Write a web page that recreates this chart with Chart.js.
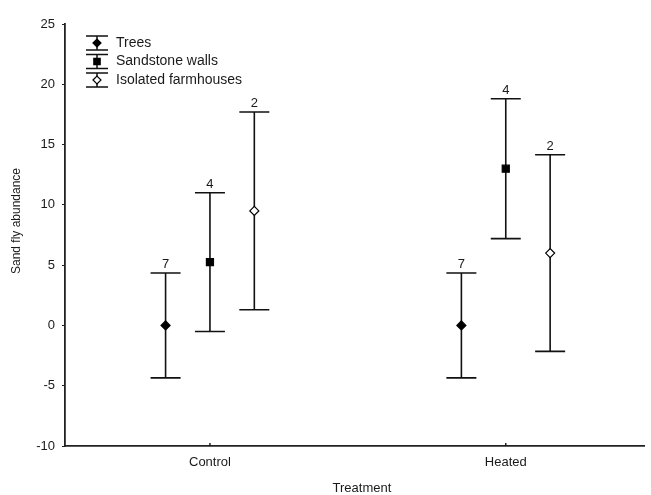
<!DOCTYPE html>
<html><head><meta charset="utf-8">
<script src="https://cdn.jsdelivr.net/npm/chart.js@4/dist/chart.umd.min.js"></script>
<style>html,body{margin:0;padding:0;background:#fff}#c{display:block}</style>
</head><body>
<canvas id="c" width="651" height="495"></canvas>
<script>
const categories = ["Control", "Heated"];
const seriesNames = ["Trees", "Sandstone walls", "Isolated farmhouses"];
const treesMean = [0, 0];
const treesErr = [4.35, 4.35];
const treesN = [7, 7];
const sandMean = [5.25, 13.0];
const sandErr = [5.75, 5.8];
const sandN = [4, 4];
const farmMean = [9.5, 6.0];
const farmErr = [8.2, 8.15];
const farmN = [2, 2];
const yTicks = [-10, -5, 0, 5, 10, 15, 20, 25];
const xTitle = "Treatment";
const yTitle = "Sand fly abundance";

const offsets = [-0.15, 0, 0.15];
const means = [treesMean, sandMean, farmMean];
const errs = [treesErr, sandErr, farmErr];
const ns = [treesN, sandN, farmN];
const styles = [
  {pointStyle: 'rectRot', fill: '#000', radius: 4.5},
  {pointStyle: 'rect', fill: '#000', radius: 5},
  {pointStyle: 'rectRot', fill: '#fff', radius: 4.5}
];
const FONT = '"Liberation Sans", Arial, sans-serif';
const TXT = '#1a1a1a';

const datasets = seriesNames.map((name, s) => ({
  label: name,
  data: categories.map((c, i) => ({x: i + 1 + offsets[s], y: means[s][i], e: errs[s][i], n: ns[s][i]})),
  showLine: false,
  pointStyle: styles[s].pointStyle,
  pointRadius: styles[s].radius,
  pointBackgroundColor: styles[s].fill,
  pointBorderColor: '#000',
  pointBorderWidth: 1.2,
  backgroundColor: styles[s].fill,
  borderColor: '#000'
}));

const errorBars = {
  id: 'errorBars',
  beforeDatasetsDraw(chart) {
    const ctx = chart.ctx, xs = chart.scales.x, ys = chart.scales.y;
    ctx.save();
    ctx.strokeStyle = '#111';
    ctx.lineWidth = 1.6;
    ctx.fillStyle = TXT;
    ctx.font = '13px ' + FONT;
    ctx.textAlign = 'center';
    ctx.textBaseline = 'bottom';
    chart.data.datasets.forEach(ds => {
      ds.data.forEach(p => {
        const x = xs.getPixelForValue(p.x);
        const yt = ys.getPixelForValue(p.y + p.e);
        const yb = ys.getPixelForValue(p.y - p.e);
        ctx.beginPath();
        ctx.moveTo(x, yt); ctx.lineTo(x, yb);
        ctx.moveTo(x - 15, yt); ctx.lineTo(x + 15, yt);
        ctx.moveTo(x - 15, yb); ctx.lineTo(x + 15, yb);
        ctx.stroke();
        ctx.fillText(String(p.n), x, yt - 2);
      });
    });
    // inward x ticks
    ctx.lineWidth = 1.4;
    categories.forEach((c, i) => {
      const x = xs.getPixelForValue(i + 1);
      ctx.beginPath();
      ctx.moveTo(x, ys.bottom); ctx.lineTo(x, ys.bottom - 3);
      ctx.stroke();
    });
    // axis titles
    ctx.font = '13px ' + FONT;
    ctx.textAlign = 'center';
    ctx.textBaseline = 'middle';
    ctx.fillText(xTitle, (xs.left + xs.right) / 2 + 7, 488);
    ctx.save();
    ctx.translate(17, 221);
    ctx.rotate(-Math.PI / 2);
    ctx.font = '12px ' + FONT;
    ctx.fillText(yTitle, 0, 0);
    ctx.restore();
    ctx.restore();
  },
  afterDraw(chart) {
    const ctx = chart.ctx;
    ctx.save();
    ctx.strokeStyle = '#111';
    ctx.lineWidth = 1.5;
    ctx.font = '14px ' + FONT;
    ctx.textAlign = 'left';
    ctx.textBaseline = 'middle';
    ctx.fillStyle = TXT;
    const x0 = 97, y0 = 43, dy = 18.5;
    chart.data.datasets.forEach((ds, s) => {
      const y = y0 + s * dy;
      ctx.beginPath();
      ctx.moveTo(x0 - 11, y - 7); ctx.lineTo(x0 + 11, y - 7);
      ctx.moveTo(x0 - 11, y + 7); ctx.lineTo(x0 + 11, y + 7);
      ctx.moveTo(x0, y - 7); ctx.lineTo(x0, y + 7);
      ctx.stroke();
      ctx.fillStyle = styles[s].fill; ctx.strokeStyle = '#000'; ctx.lineWidth = 1.2;
      Chart.helpers.drawPoint(ctx, {pointStyle: styles[s].pointStyle, radius: styles[s].radius - 0.5, borderWidth: 1.2}, x0, y);
      ctx.fillStyle = TXT; ctx.strokeStyle = '#111'; ctx.lineWidth = 1.5;
      ctx.fillText(ds.label, x0 + 19, y);
    });
    ctx.restore();
  }
};

new Chart(document.getElementById('c'), {
  type: 'scatter',
  data: {datasets},
  plugins: [errorBars],
  options: {
    responsive: false,
    animation: false,
    layout: {padding: {top: 24, right: 6, left: 0, bottom: 0}},
    plugins: {legend: {display: false}, tooltip: {enabled: false}},
    scales: {
      x: {
        type: 'linear', min: 0.51, max: 2.47,
        afterBuildTicks(scale) { scale.ticks = categories.map((c, i) => ({value: i + 1})); },
        afterFit(scale) { scale.height = 49; },
        grid: {display: false, drawTicks: false},
        border: {color: '#222', width: 1.8},
        ticks: {
          color: TXT, font: {family: FONT, size: 13}, padding: 9,
          callback: v => categories[v - 1] || ''
        },
        title: {display: false}
      },
      y: {
        min: -10, max: 25,
        afterBuildTicks(scale) { scale.ticks = yTicks.map(v => ({value: v})); },
        afterFit(scale) { scale.width = 65; },
        grid: {drawOnChartArea: false, drawTicks: true, tickLength: 3, color: '#222'},
        border: {color: '#222', width: 1.8},
        ticks: {color: TXT, font: {family: FONT, size: 13}, padding: 7},
        title: {display: false}
      }
    }
  }
});
</script>
</body></html>
